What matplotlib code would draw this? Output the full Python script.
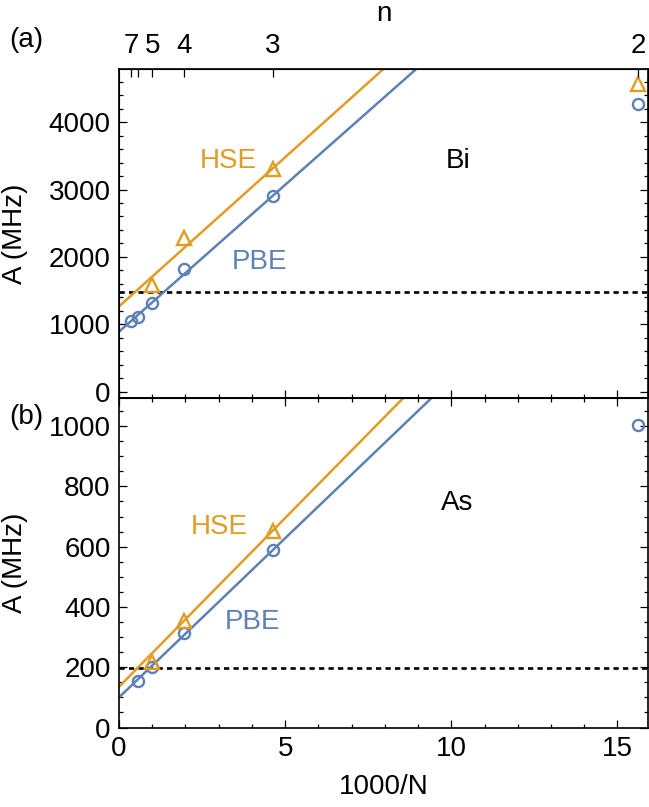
import numpy as np
import matplotlib
matplotlib.use("Agg")
import matplotlib.pyplot as plt
from matplotlib.ticker import MultipleLocator

plt.rcParams['font.family'] = ['Liberation Sans', 'DejaVu Sans']

# supercell size n -> 1000/N with N = 8 n^3
n_ticks = [7, 6, 5, 4, 3, 2]
n_labels = ['7', '', '5', '4', '3', '2']

# Bi (panel a)
bi_pbe_x = [125 / 7**3, 125 / 6**3, 1.0, 125 / 4**3, 125 / 3**3, 125 / 2**3]
bi_pbe_y = [1045, 1104, 1312, 1823, 2902, 4264]
bi_hse_x = [1.0, 125 / 4**3, 125 / 3**3, 125 / 2**3]
bi_hse_y = [1590, 2275, 3310, 4562]
bi_pbe_fit = (890, 436)    # intercept, slope
bi_hse_fit = (1265, 443)
bi_exp = 1475.4

# As (panel b)
as_pbe_x = [125 / 6**3, 1.0, 125 / 4**3, 125 / 3**3, 125 / 2**3]
as_pbe_y = [155, 200, 312, 590, 1005]
as_hse_x = [1.0, 125 / 4**3, 125 / 3**3]
as_hse_y = [218, 354, 653]
as_pbe_fit = (100, 105.6)
as_hse_fit = (135, 112)
as_exp = 198.35

blue = '#5E81B5'
orange = '#E19C24'
fs = 20

fig = plt.figure(figsize=(6.49, 8.07), dpi=100)
ax1 = fig.add_axes([0.1834, 0.5064, 0.8156, 0.4081])
ax2 = fig.add_axes([0.1834, 0.0985, 0.8156, 0.4079])

xlim = (0, 15.93)
xs = np.linspace(0, 16, 50)


def style(ax):
    ax.set_xlim(*xlim)
    ax.xaxis.set_major_locator(MultipleLocator(5))
    ax.xaxis.set_minor_locator(MultipleLocator(1))
    ax.tick_params(which='both', direction='in', top=True, right=True,
                   labelsize=fs, width=0.9, pad=6)
    ax.tick_params(which='major', length=5.5)
    ax.tick_params(which='minor', length=3)
    for sp in ax.spines.values():
        sp.set_linewidth(1.2)


def panel(ax, px, py, hx, hy, pfit, hfit, exp):
    ax.plot(xs, pfit[0] + pfit[1] * xs, color=blue, lw=1.8, zorder=2)
    ax.plot(xs, hfit[0] + hfit[1] * xs, color=orange, lw=1.8, zorder=2)
    ax.axhline(exp, color='black', lw=1.9, ls=(0, (2.0, 1.6)), zorder=1)
    ax.plot(px, py, 'o', ms=8, mfc='none', mec=blue, mew=1.7,
            clip_on=False, zorder=3)
    ax.plot(hx, hy, '^', ms=9.5, mfc='none', mec=orange, mew=1.7,
            clip_on=False, zorder=3)


panel(ax1, bi_pbe_x, bi_pbe_y, bi_hse_x, bi_hse_y, bi_pbe_fit, bi_hse_fit, bi_exp)
panel(ax2, as_pbe_x, as_pbe_y, as_hse_x, as_hse_y, as_pbe_fit, as_hse_fit, as_exp)

style(ax1)
ax1.set_ylim(-100, 4790)
ax1.yaxis.set_major_locator(MultipleLocator(1000))
ax1.yaxis.set_minor_locator(MultipleLocator(200))
ax1.tick_params(axis='x', top=False, labelbottom=False)

style(ax2)
ax2.set_ylim(0, 1092)
ax2.yaxis.set_major_locator(MultipleLocator(200))
ax2.yaxis.set_minor_locator(MultipleLocator(50))

# top n axis
axn = ax1.twiny()
axn.set_xlim(*xlim)
axn.set_xticks([125 / n**3 for n in n_ticks])
axn.set_xticklabels(n_labels)
axn.xaxis.set_minor_locator(plt.NullLocator())
axn.tick_params(direction='in', length=5.5, width=0.9, labelsize=fs, pad=7)
axn.set_xlabel('n', fontsize=fs, labelpad=9)

for ax in (ax1, ax2):
    ax.set_ylabel('A (MHz)', fontsize=fs)
    ax.yaxis.set_label_coords(-0.172, 0.5)
ax2.set_xlabel('1000/N', fontsize=fs, labelpad=9)

ax1.text(3.30, 3430, 'HSE', color=orange, fontsize=fs, ha='center', va='center')
ax1.text(4.22, 1917, 'PBE', color=blue, fontsize=fs, ha='center', va='center')
ax1.text(10.2, 3430, 'Bi', color='black', fontsize=fs, ha='center', va='center')
ax2.text(3.02, 665, 'HSE', color=orange, fontsize=fs, ha='center', va='center')
ax2.text(4.03, 350, 'PBE', color=blue, fontsize=fs, ha='center', va='center')
ax2.text(10.17, 745, 'As', color='black', fontsize=fs, ha='center', va='center')

fig.text(26 / 649, 1 - 40 / 807, '(a)', fontsize=fs, ha='center', va='center')
fig.text(26 / 649, 1 - 417 / 807, '(b)', fontsize=fs, ha='center', va='center')

fig.savefig('out.png', dpi=100)
